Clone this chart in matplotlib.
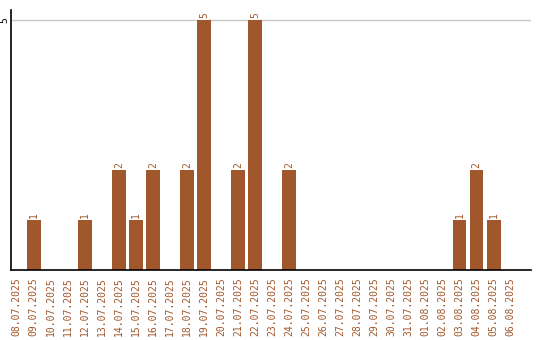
import matplotlib
matplotlib.use("Agg")
import matplotlib.pyplot as plt
import numpy as np
import datetime as dt

start = dt.date(2025, 7, 8)
dates = [(start + dt.timedelta(days=i)).strftime("%d.%m.%Y") for i in range(30)]
counts = [0, 1, 0, 0, 1, 0, 2, 1, 2, 0, 2, 5, 0, 2, 5, 0, 2, 0, 0, 0,
          0, 0, 0, 0, 0, 0, 1, 2, 1, 0]

bar_color = "#a0572b"
plt.rcParams["font.family"] = "DejaVu Sans Mono"

fig = plt.figure(figsize=(5.4, 3.4), dpi=100)
ax = fig.add_axes([11 / 540, 70 / 340, 520 / 540, 260 / 340])

x = np.arange(len(dates))
ax.bar(x, counts, width=0.82, color=bar_color, zorder=2)

for xi, v in zip(x, counts):
    if v > 0:
        ax.text(xi, v + 0.04, str(v), rotation=90, ha="center", va="bottom",
                fontsize=7, color=bar_color)

ax.set_xlim(-0.34, 30.2)
ax.set_ylim(0, 5.2)
ax.set_yticks([5])
ax.set_yticklabels(["5"], rotation=90, va="center", fontsize=7)
ax.tick_params(axis="y", length=0, pad=1)
ax.axhline(5, color="#c8c8c8", linewidth=1, zorder=1)

ax.set_xticks(x)
ax.set_xticklabels(dates, rotation=90, fontsize=7, color=bar_color)
ax.tick_params(axis="x", length=0, pad=5)

for side in ("top", "right"):
    ax.spines[side].set_visible(False)
ax.spines["left"].set_linewidth(1.2)
ax.spines["bottom"].set_linewidth(1.2)

fig.savefig("out.png", dpi=100)
